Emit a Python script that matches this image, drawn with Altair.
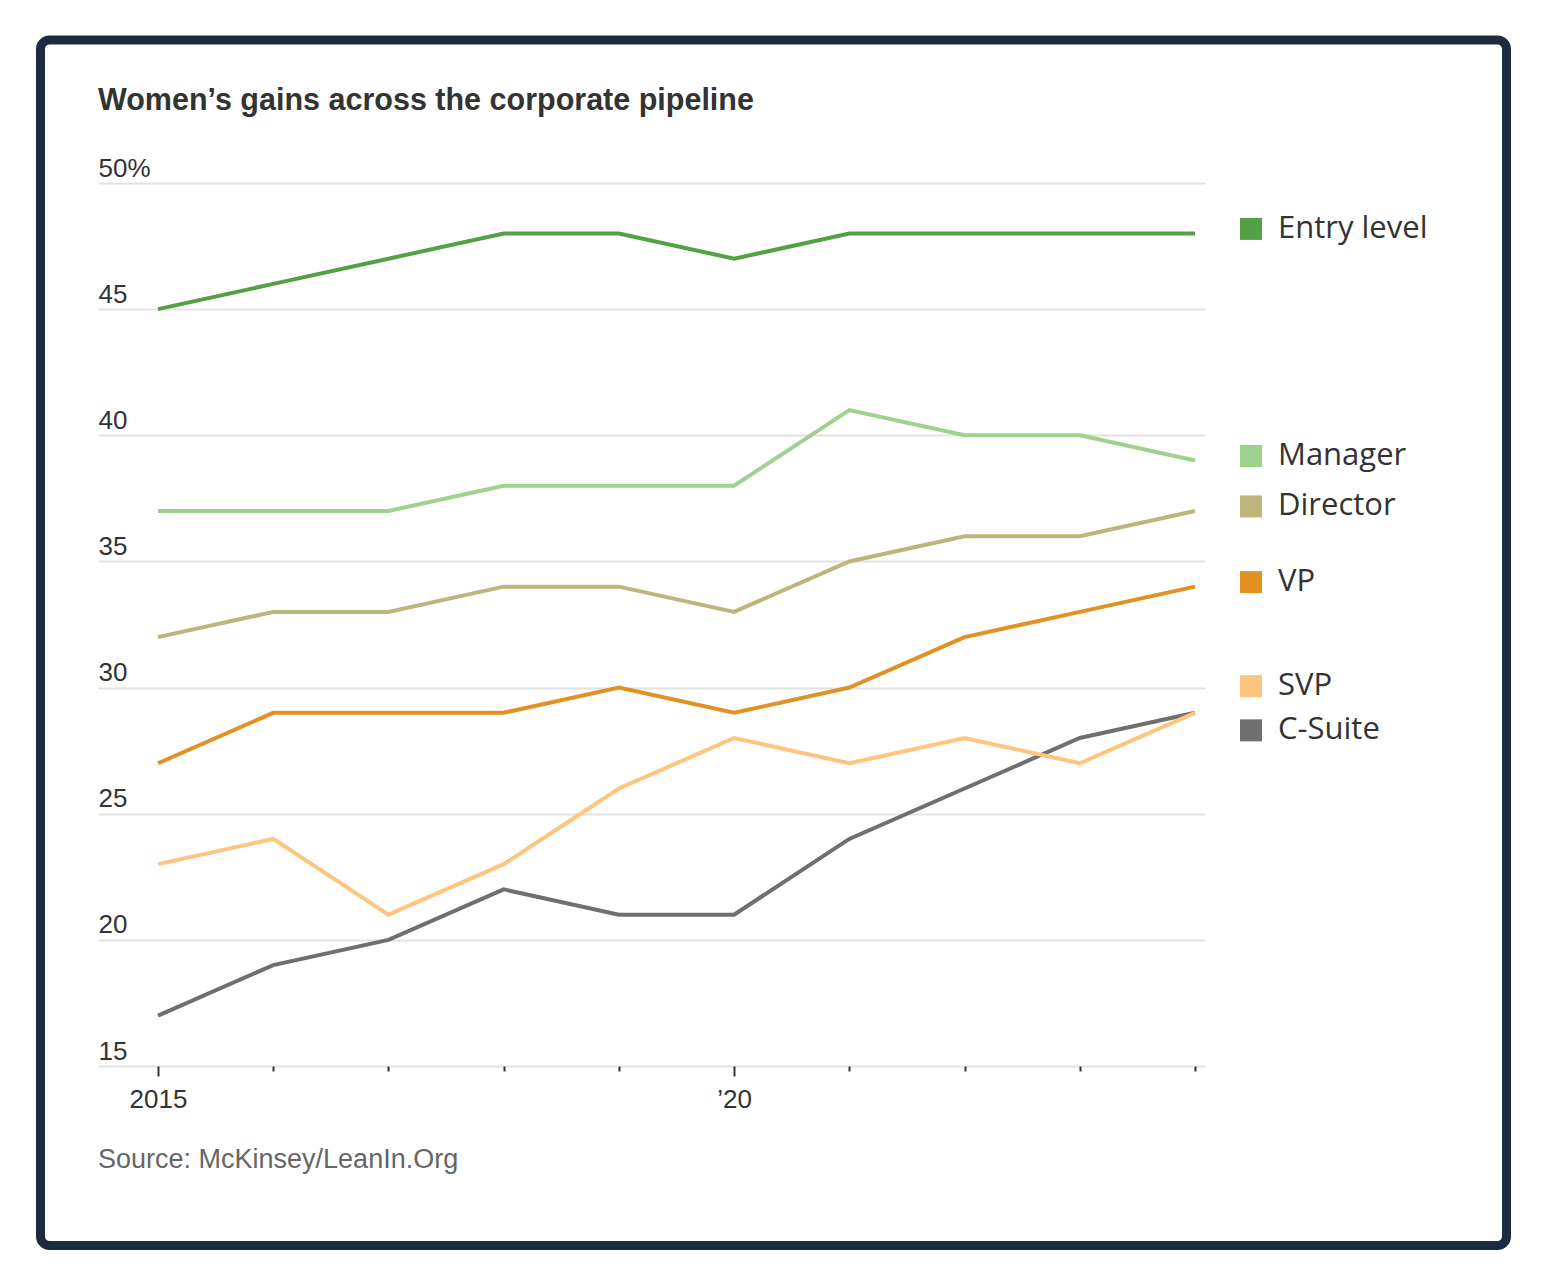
import altair as alt
import pandas as pd

years = [2015, 2016, 2017, 2018, 2019, 2020, 2021, 2022, 2023, 2024]
series = ["Entry level", "Manager", "Director", "VP", "SVP", "C-Suite"]
colors = ["#54a046", "#9fd28f", "#bdb67c", "#e29223", "#fec57e", "#6f6f6f"]

entry_level = [45, 46, 47, 48, 48, 47, 48, 48, 48, 48]
manager = [37, 37, 37, 38, 38, 38, 41, 40, 40, 39]
director = [32, 33, 33, 34, 34, 33, 35, 36, 36, 37]
vp = [27, 29, 29, 29, 30, 29, 30, 32, 33, 34]
svp = [23, 24, 21, 23, 26, 28, 27, 28, 27, 29]
c_suite = [17, 19, 20, 22, 21, 21, 24, 26, 28, 29]

title_text = "Women\u2019s gains across the corporate pipeline"
source_text = "Source: McKinsey/LeanIn.Org"

values = {
    "Entry level": entry_level,
    "Manager": manager,
    "Director": director,
    "VP": vp,
    "SVP": svp,
    "C-Suite": c_suite,
}

# draw order: C-Suite below SVP
draw_order = ["Entry level", "Manager", "Director", "VP", "C-Suite", "SVP"]
rows = []
for i, s in enumerate(draw_order):
    for y, v in zip(years, values[s]):
        rows.append({"series": s, "year": y, "value": v, "ord": i})
df = pd.DataFrame(rows)

# legend label positions: last value, nudged apart where they collide
lab = sorted([(values[s][-1] + 0.18, s) for s in series], reverse=True)
pos = [p for p, _ in lab]
gap = 1.75
for i in range(len(pos) - 1):
    if pos[i] - pos[i + 1] < gap:
        m = (pos[i] + pos[i + 1]) / 2
        pos[i], pos[i + 1] = m + gap / 2, m - gap / 2
leg = pd.DataFrame({"series": [s for _, s in lab], "ly": pos})

W, H = 1107, 883
FONT_N = "Liberation Sans Narrow, Liberation Sans, Roboto, sans-serif"
FONT_L = "Open Sans, Noto Sans, sans-serif"

xscale = alt.Scale(domain=[2014.479, 2024.087], nice=False, zero=False)
yscale = alt.Scale(domain=[15, 50], nice=False, zero=False)
cscale = alt.Scale(domain=series, range=colors)

one = pd.DataFrame({"a": [0]})

frame = alt.Chart(one).mark_rect(
    fillOpacity=0, stroke="#1e2a40", strokeWidth=9, cornerRadius=9
).encode(
    x=alt.value(-57.5), x2=alt.value(1408.5), y=alt.value(-143), y2=alt.value(1062.5)
)

lines = alt.Chart(df).mark_line(strokeWidth=4).encode(
    x=alt.X(
        "year:Q",
        scale=xscale,
        title=None,
        axis=alt.Axis(
            values=years,
            grid=False,
            domain=False,
            tickColor="#333333",
            tickWidth=2,
            tickSize={"condition": {"test": "datum.value === 2015 || datum.value === 2020", "value": 10}, "value": 5},
            labelExpr="datum.value === 2015 ? '2015' : (datum.value === 2020 ? '\u201920' : '')",
            labelFont=FONT_N,
            labelFontSize=26,
            labelColor="#333333",
            labelPadding=10,
        ),
    ),
    y=alt.Y(
        "value:Q",
        scale=yscale,
        title=None,
        axis=alt.Axis(
            values=[15, 20, 25, 30, 35, 40, 45, 50],
            domain=False,
            ticks=False,
            gridColor="#e3e3e3",
            gridWidth=2,
            labelAlign="left",
            labelBaseline="bottom",
            labelPadding=0,
            labelOffset=-2,
            labelFont=FONT_N,
            labelFontSize=26,
            labelColor="#333333",
            labelExpr="datum.value === 50 ? '50%' : datum.label",
        ),
    ),
    color=alt.Color("series:N", scale=cscale, legend=None),
    order=alt.Order("ord:Q"),
    detail="series:N",
)

squares = alt.Chart(leg).mark_square(size=484, opacity=1).encode(
    x=alt.value(1153),
    y=alt.Y("ly:Q", scale=yscale),
    color=alt.Color("series:N", scale=cscale, legend=None),
)

labels = alt.Chart(leg).mark_text(
    align="left", baseline="middle", font=FONT_L, fontSize=31, color="#333333"
).encode(
    x=alt.value(1180),
    y=alt.Y("ly:Q", scale=yscale),
    text="series:N",
)

title = alt.Chart(pd.DataFrame({"t": [title_text]})).mark_text(
    align="left", baseline="alphabetic", font=FONT_N, fontSize=30.5,
    fontWeight="bold", color="#333333"
).encode(x=alt.value(0), y=alt.value(-73), text="t:N")

source = alt.Chart(pd.DataFrame({"t": [source_text]})).mark_text(
    align="left", baseline="middle", font=FONT_N, fontSize=27, color="#666666"
).encode(x=alt.value(0), y=alt.value(977), text="t:N")

chart = alt.layer(frame, lines, squares, labels, title, source).properties(
    width=W,
    height=H,
    autosize=alt.AutoSizeParams(type="none"),
    padding={"left": 90, "top": 175, "right": 334, "bottom": 212},
    background="white",
).configure_view(stroke=None)

chart.save("out.html", embed_options={"renderer": "svg", "actions": False})
